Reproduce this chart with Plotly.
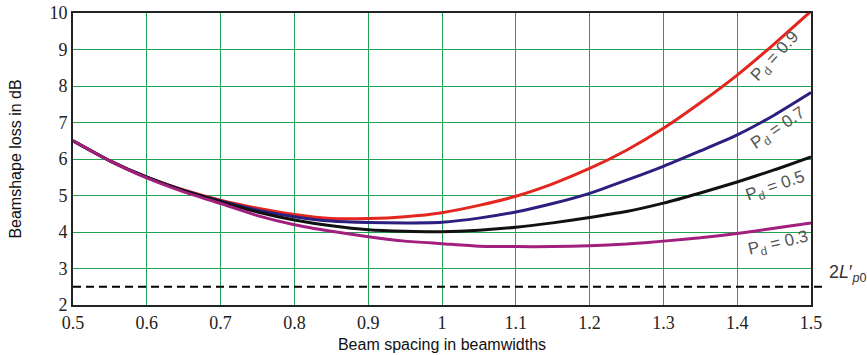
import plotly.graph_objects as go

# Beam spacing (in beamwidths)
spacing = [0.5, 0.55, 0.6, 0.65, 0.7, 0.75, 0.8, 0.85, 0.9, 0.95, 1.0, 1.05,
           1.1, 1.15, 1.2, 1.25, 1.3, 1.35, 1.4, 1.45, 1.5]

# Beamshape loss (dB) for each detection probability
loss_pd09 = [6.5, 5.95, 5.5, 5.15, 4.87, 4.65, 4.48, 4.37, 4.37, 4.42, 4.53, 4.73,
             4.98, 5.32, 5.74, 6.24, 6.84, 7.54, 8.3, 9.15, 10.05]
loss_pd07 = [6.5, 5.95, 5.5, 5.14, 4.85, 4.6, 4.42, 4.3, 4.26, 4.25, 4.27, 4.38,
             4.55, 4.78, 5.06, 5.42, 5.8, 6.22, 6.66, 7.2, 7.82]
loss_pd05 = [6.5, 5.95, 5.5, 5.13, 4.83, 4.55, 4.33, 4.17, 4.06, 4.02, 4.01, 4.05,
             4.13, 4.25, 4.4, 4.56, 4.79, 5.07, 5.37, 5.7, 6.06]
loss_pd03 = [6.5, 5.95, 5.48, 5.1, 4.78, 4.45, 4.2, 4.02, 3.87, 3.75, 3.68, 3.61,
             3.6, 3.6, 3.62, 3.67, 3.75, 3.84, 3.96, 4.1, 4.25]

series = [
    ("0.9", loss_pd09, "#e3261f", 1.452, 8.8, -47),
    ("0.7", loss_pd07, "#2b1f7f", 1.456, 6.82, -34),
    ("0.5", loss_pd05, "#111111", 1.452, 5.24, -19),
    ("0.3", loss_pd03, "#a21f7e", 1.456, 3.66, -13),
]

reference_level = 2.5
y_range = [2, 10]
x_ticks = [0.5, 0.6, 0.7, 0.8, 0.9, 1.0, 1.1, 1.2, 1.3, 1.4, 1.5]
x_tick_text = ["0.5", "0.6", "0.7", "0.8", "0.9", "1", "1.1", "1.2", "1.3", "1.4", "1.5"]

fig = go.Figure()

for name, values, color, lx, ly, ang in series:
    fig.add_trace(go.Scatter(
        x=spacing, y=values, mode="lines", name=name,
        line=dict(color=color, width=3, shape="spline", smoothing=0.6),
        showlegend=False, hoverinfo="skip",
    ))
    fig.add_annotation(
        x=lx, y=ly, xref="x", yref="y", showarrow=False,
        text="P<sub>d</sub> = " + name, textangle=ang,
        font=dict(family="Liberation Sans, Arial, sans-serif", size=17, color="#555555"),
    )

# Dashed reference level, extended just past the right edge of the plot
ref_paper = (reference_level - y_range[0]) / (y_range[1] - y_range[0])
fig.add_shape(type="line", xref="paper", yref="paper",
              x0=0, x1=1.015, y0=ref_paper, y1=ref_paper,
              line=dict(color="black", width=2, dash="8px,5px"), layer="above")
fig.add_annotation(
    x=1.022, y=ref_paper, xref="paper", yref="paper", xanchor="left", showarrow=False,
    text="2<i>L</i>′<sub><i>p</i>0</sub>",
    font=dict(family="Liberation Sans, Arial, sans-serif", size=18, color="#333333"),
)

grid_color = "#22a354"
axis_font = dict(family="Liberation Serif, Times New Roman, serif", size=18, color="#222222")
title_font = dict(family="Liberation Sans, Arial, sans-serif", size=16, color="#111111")

fig.update_xaxes(
    range=[0.5, 1.5], tickvals=x_ticks, ticktext=x_tick_text,
    showgrid=True, gridcolor=grid_color, gridwidth=1,
    showline=True, linecolor="#222222", linewidth=2, mirror=True,
    ticks="", ticklabelstandoff=0, automargin=False,
    tickfont=axis_font, zeroline=False,
    title=dict(text="Beam spacing in beamwidths", font=title_font, standoff=7),
)
fig.update_yaxes(
    range=y_range, dtick=1,
    showgrid=True, gridcolor=grid_color, gridwidth=1,
    showline=True, linecolor="#222222", linewidth=2, mirror=True,
    ticks="", automargin=False, tickfont=axis_font, zeroline=False,
    title=dict(text="Beamshape loss in dB", font=title_font, standoff=24),
)

fig.update_layout(
    width=867, height=355,
    margin=dict(l=73, r=56, t=13, b=50),
    paper_bgcolor="white", plot_bgcolor="white",
)

fig.write_html("out.html")
